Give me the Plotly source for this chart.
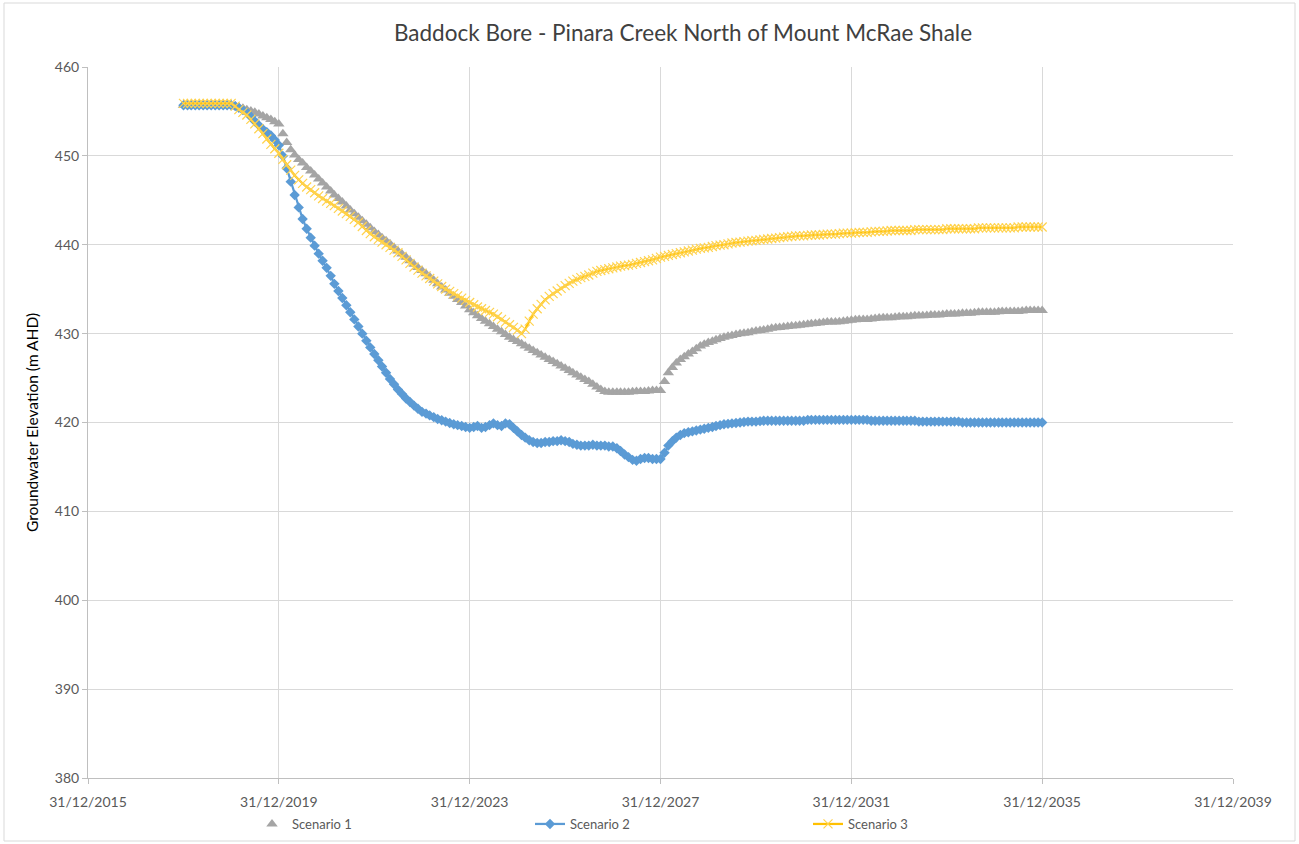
import pandas as pd
import plotly.graph_objects as go

# Monthly sample dates (end of month), Dec 2017 .. Dec 2035
dates = pd.date_range("2017-12-31", "2035-12-31", freq="ME")

scenario1 = [
    455.7, 455.7, 455.7, 455.7, 455.7, 455.7, 455.7, 455.7, 455.7, 455.7, 455.7, 455.7, 455.7,
    455.6, 455.5, 455.35, 455.2, 455.05, 454.9, 454.7, 454.5, 454.3, 454.1, 453.85, 453.6,
    452.5, 451.5, 450.7, 450.1, 449.6, 449.2, 448.7, 448.3, 447.85, 447.4, 446.95, 446.5,
    446.05, 445.6, 445.2, 444.8, 444.35, 443.9, 443.5, 443.1, 442.7, 442.3, 441.9, 441.5,
    441.15, 440.8, 440.45, 440.1, 439.7, 439.3, 438.95, 438.6, 438.2, 437.8, 437.45, 437.1,
    436.75, 436.4, 436.0, 435.6, 435.25, 434.9, 434.55, 434.2, 433.85, 433.5, 433.1, 432.7,
    432.35, 432.0, 431.7, 431.4, 431.1, 430.8, 430.5, 430.2, 429.9, 429.6, 429.35, 429.1,
    428.85, 428.6, 428.35, 428.1, 427.85, 427.6, 427.35, 427.1, 426.85, 426.6, 426.35, 426.1,
    425.85, 425.6, 425.35, 425.1, 424.85, 424.6, 424.3, 424.0, 423.7, 423.5, 423.4, 423.4,
    423.4, 423.4, 423.4, 423.4, 423.45, 423.5, 423.5, 423.5, 423.55, 423.6, 423.6, 423.6,
    424.6, 425.6, 426.2, 426.7, 427.1, 427.4, 427.7, 428.0, 428.3, 428.6, 428.8, 429.0,
    429.15, 429.3, 429.45, 429.6, 429.7, 429.8, 429.9, 430.0, 430.05, 430.1, 430.2, 430.3,
    430.35, 430.4, 430.5, 430.6, 430.65, 430.7, 430.75, 430.8, 430.85, 430.9, 430.95, 431.0,
    431.05, 431.1, 431.15, 431.2, 431.25, 431.3, 431.3, 431.3, 431.35, 431.4, 431.45, 431.5,
    431.55, 431.6, 431.6, 431.6, 431.65, 431.7, 431.75, 431.8, 431.8, 431.8, 431.85, 431.9,
    431.9, 431.9, 431.95, 432.0, 432.0, 432.0, 432.05, 432.1, 432.1, 432.1, 432.15, 432.2,
    432.2, 432.2, 432.25, 432.3, 432.3, 432.3, 432.35, 432.4, 432.4, 432.4, 432.4, 432.4,
    432.45, 432.5, 432.5, 432.5, 432.5, 432.5, 432.55, 432.6, 432.6, 432.6, 432.6, 432.6,
]

scenario2 = [
    455.7, 455.7, 455.7, 455.7, 455.7, 455.7, 455.7, 455.7, 455.7, 455.7, 455.7, 455.7, 455.7,
    455.6, 455.4, 455.15, 454.9, 454.4, 453.9, 453.45, 453.0, 452.65, 452.3, 451.8, 451.2,
    450.0, 448.6, 447.1, 445.6, 444.2, 442.9, 441.8, 440.8, 439.9, 439.0, 438.2, 437.4,
    436.5, 435.6, 434.8, 434.0, 433.2, 432.4, 431.6, 430.8, 430.0, 429.2, 428.45, 427.7,
    427.0, 426.3, 425.6, 424.9, 424.3, 423.7, 423.2, 422.7, 422.3, 421.9, 421.55, 421.2,
    421.0, 420.8, 420.6, 420.4, 420.25, 420.1, 419.95, 419.8, 419.7, 419.6, 419.5, 419.4,
    419.5, 419.6, 419.4, 419.5, 419.7, 419.9, 419.7, 419.6, 419.9, 419.8, 419.4, 419.0,
    418.6, 418.3, 418.0, 417.8, 417.7, 417.7, 417.8, 417.8, 417.9, 417.9, 418.0, 417.9,
    417.8, 417.6, 417.5, 417.4, 417.4, 417.4, 417.5, 417.4, 417.4, 417.4, 417.3, 417.3,
    417.1, 416.8, 416.4, 416.1, 415.8, 415.7, 415.9, 416.0, 416.0, 415.9, 415.9, 415.9,
    416.6, 417.4, 417.9, 418.3, 418.6, 418.8, 418.9, 419.0, 419.1, 419.2, 419.3, 419.4,
    419.5, 419.6, 419.7, 419.8, 419.85, 419.9, 419.95, 420.0, 420.05, 420.1, 420.1, 420.1,
    420.15, 420.2, 420.2, 420.2, 420.2, 420.2, 420.2, 420.2, 420.2, 420.2, 420.2, 420.2,
    420.3, 420.3, 420.3, 420.3, 420.3, 420.3, 420.3, 420.3, 420.3, 420.3, 420.3, 420.3,
    420.3, 420.3, 420.3, 420.3, 420.2, 420.2, 420.2, 420.2, 420.2, 420.2, 420.2, 420.2,
    420.2, 420.2, 420.2, 420.2, 420.1, 420.1, 420.1, 420.1, 420.1, 420.1, 420.1, 420.1,
    420.1, 420.1, 420.1, 420.0, 420.0, 420.0, 420.0, 420.0, 420.0, 420.0, 420.0, 420.0,
    420.0, 420.0, 420.0, 420.0, 420.0, 420.0, 420.0, 420.0, 420.0, 420.0, 420.0, 420.0,
]

scenario3 = [
    455.9, 455.9, 455.9, 455.9, 455.9, 455.9, 455.9, 455.9, 455.9, 455.9, 455.9, 455.9, 455.9,
    455.6, 455.2, 454.9, 454.6, 454.1, 453.6, 453.05, 452.5, 451.9, 451.3, 450.8, 450.3,
    449.6, 449.0, 448.4, 447.8, 447.3, 446.9, 446.5, 446.2, 445.85, 445.5, 445.2, 444.9,
    444.65, 444.4, 444.1, 443.8, 443.5, 443.2, 442.85, 442.5, 442.05, 441.6, 441.25, 440.9,
    440.6, 440.3, 440.0, 439.7, 439.4, 439.1, 438.7, 438.3, 437.9, 437.5, 437.15, 436.8,
    436.5, 436.2, 435.9, 435.6, 435.3, 435.0, 434.75, 434.5, 434.25, 434.0, 433.75, 433.5,
    433.25, 433.0, 432.8, 432.6, 432.4, 432.2, 431.9, 431.6, 431.3, 431.0, 430.7, 430.4,
    430.0, 430.5, 431.4, 432.2, 432.8, 433.3, 433.8, 434.2, 434.5, 434.8, 435.1, 435.4,
    435.65, 435.9, 436.1, 436.3, 436.45, 436.6, 436.8, 437.0, 437.1, 437.2, 437.3, 437.4,
    437.5, 437.6, 437.65, 437.7, 437.8, 437.9, 438.0, 438.1, 438.2, 438.3, 438.45, 438.6,
    438.7, 438.8, 438.9, 439.0, 439.1, 439.2, 439.3, 439.4, 439.5, 439.6, 439.65, 439.7,
    439.8, 439.9, 439.95, 440.0, 440.1, 440.2, 440.25, 440.3, 440.35, 440.4, 440.45, 440.5,
    440.55, 440.6, 440.65, 440.7, 440.75, 440.8, 440.85, 440.9, 440.95, 441.0, 441.0, 441.0,
    441.05, 441.1, 441.1, 441.1, 441.15, 441.2, 441.2, 441.2, 441.25, 441.3, 441.3, 441.3,
    441.35, 441.4, 441.4, 441.4, 441.45, 441.5, 441.5, 441.5, 441.55, 441.6, 441.6, 441.6,
    441.6, 441.6, 441.6, 441.7, 441.7, 441.7, 441.7, 441.7, 441.7, 441.7, 441.7, 441.8,
    441.8, 441.8, 441.8, 441.8, 441.8, 441.8, 441.8, 441.9, 441.9, 441.9, 441.9, 441.9,
    441.9, 441.9, 441.9, 441.9, 441.9, 442.0, 442.0, 442.0, 442.0, 442.0, 442.0, 442.0,
]

tick_dates = ["2015-12-31", "2019-12-31", "2023-12-31", "2027-12-31",
              "2031-12-31", "2035-12-31", "2039-12-31"]
tick_labels = ["31/12/2015", "31/12/2019", "31/12/2023", "31/12/2027",
               "31/12/2031", "31/12/2035", "31/12/2039"]

FONT = "Lato"
GRID = "#D9D9D9"

fig = go.Figure()
fig.add_trace(go.Scatter(
    x=dates, y=scenario1, name="Scenario 1", mode="markers",
    marker=dict(symbol="triangle-up", size=10, color="#A5A5A5"),
))
fig.add_trace(go.Scatter(
    x=dates, y=scenario2, name="Scenario 2", mode="lines+markers",
    line=dict(color="#5B9BD5", width=2.25),
    marker=dict(symbol="diamond", size=8, color="#5B9BD5"),
))
fig.add_trace(go.Scatter(
    x=dates, y=scenario3, name="Scenario 3", mode="lines+markers",
    line=dict(color="#FFC000", width=2.25),
    marker=dict(symbol="x-thin", size=9, color="#FFD24D",
                line=dict(color="#FFD24D", width=1.2)),
))

# outer chart border
fig.add_shape(type="rect", xref="paper", yref="paper",
              x0=(4 - 88) / 1145, x1=(1295 - 88) / 1145,
              y0=(778 - 841) / 711, y1=(778 - 3) / 711,
              line=dict(color="#D9D9D9", width=1), layer="below")

fig.update_layout(
    width=1299, height=844,
    margin=dict(l=88, r=66, t=67, b=66, autoexpand=False),
    paper_bgcolor="white", plot_bgcolor="white",
    font=dict(family=FONT, color="#595959", size=13),
    title=dict(text="Baddock Bore - Pinara Creek North of Mount McRae Shale",
               x=683 / 1299, xanchor="center", y=1 - 33 / 844, yanchor="middle",
               font=dict(family=FONT, size=22.5, color="#404040")),
    showlegend=True,
    legend=dict(orientation="h", xref="container", x=252 / 1299, xanchor="left",
                yref="container", y=1 - 824 / 844, yanchor="middle",
                entrywidth=233, entrywidthmode="pixels",
                font=dict(family=FONT, size=13, color="#595959"),
                bgcolor="rgba(0,0,0,0)"),
    xaxis=dict(
        type="date", range=["2015-12-31", "2039-12-31"],
        tickmode="array", tickvals=tick_dates, ticktext=tick_labels,
        showgrid=True, gridcolor=GRID, gridwidth=1,
        showline=True, linecolor="#BFBFBF", linewidth=1,
        ticks="outside", ticklen=5, tickcolor="#BFBFBF",
        ticklabelstandoff=6, automargin=False,
        tickfont=dict(family=FONT, size=14, color="#595959"),
        zeroline=False,
    ),
    yaxis=dict(
        range=[380, 460], dtick=10, tick0=380,
        showgrid=True, gridcolor=GRID, gridwidth=1,
        showline=True, linecolor="#BFBFBF", linewidth=1,
        ticks="outside", ticklen=5, tickcolor="#BFBFBF",
        automargin=False,
        tickfont=dict(family=FONT, size=14, color="#595959"),
        title=dict(text="Groundwater Elevation (m AHD)", standoff=12,
                   font=dict(family=FONT, size=15.5, color="#000000")),
        zeroline=False,
    ),
)

fig.write_html("out.html", config={"displayModeBar": False},
               post_script="document.body.style.margin='0';")
